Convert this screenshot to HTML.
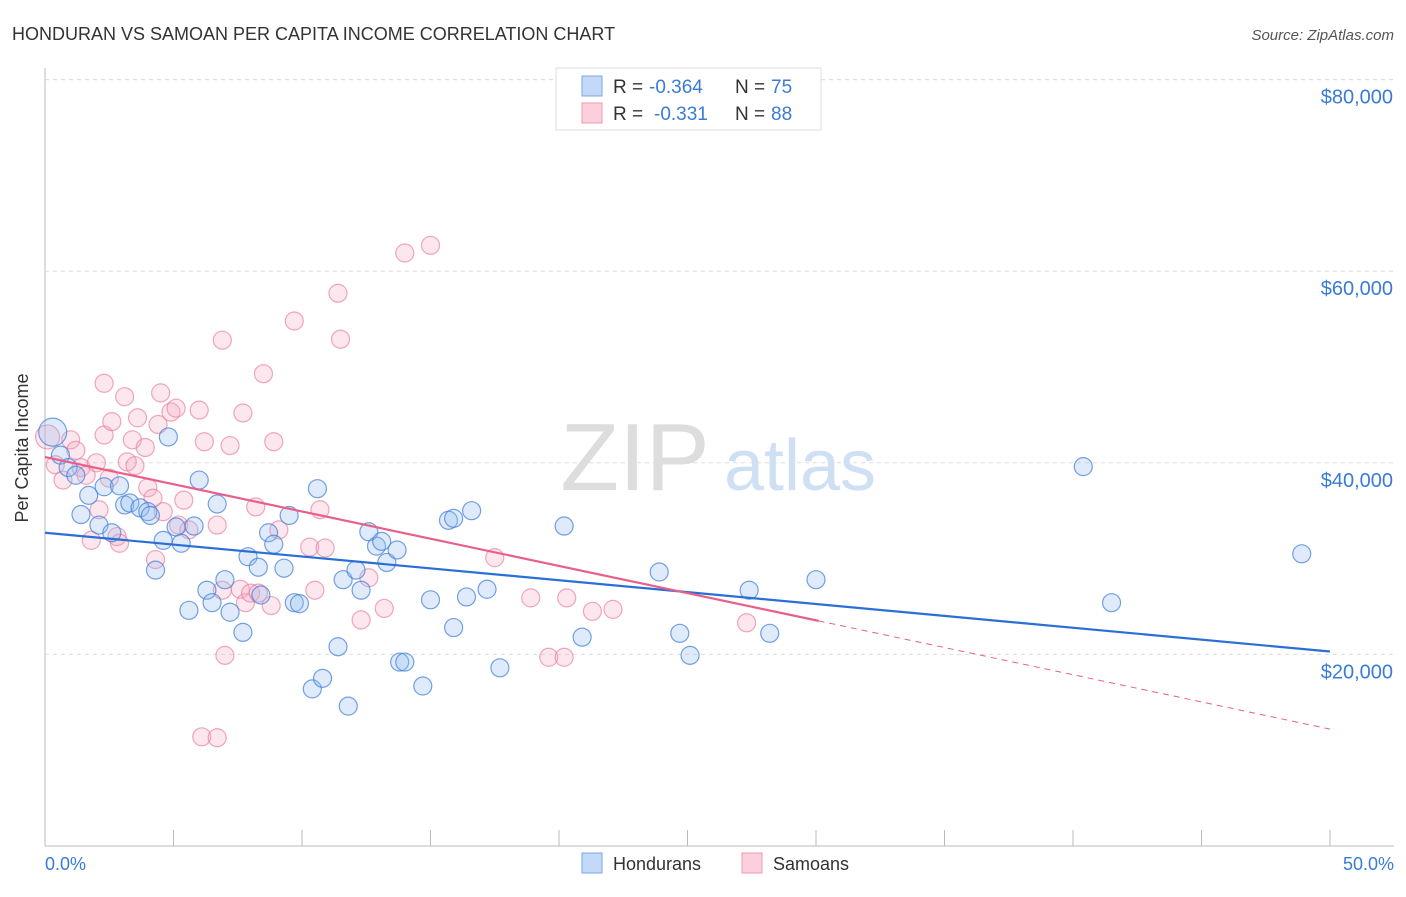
<!DOCTYPE html>
<html><head><meta charset="utf-8"><style>
body{margin:0;background:#fff;font-family:"Liberation Sans",sans-serif;}
svg text{font-family:"Liberation Sans",sans-serif;}
</style></head><body>
<svg id="c" width="1406" height="892" xmlns="http://www.w3.org/2000/svg">
<text x="12" y="40" font-size="18" fill="#333">HONDURAN VS SAMOAN PER CAPITA INCOME CORRELATION CHART</text>
<text x="1394" y="40" font-size="15" fill="#555" font-style="italic" text-anchor="end">Source: ZipAtlas.com</text>
<g id="grid"></g>
<text x="635" y="490" font-size="96" fill="#ddd" text-anchor="middle" font-family="Liberation Serif">ZIP</text>
<text x="800" y="490" font-size="72" fill="#cfe0f4" text-anchor="middle">atlas</text>
<g id="pts"></g>
<g id="lines"></g>
<text x="35" y="455" font-size="18" fill="#333" text-anchor="middle" transform="rotate(-90 28 455)">Per Capita Income</text>
<text x="45" y="870" font-size="18" fill="#3a7bd5">0.0%</text>
<text x="1394" y="870" font-size="18" fill="#3a7bd5" text-anchor="end">50.0%</text>
<g>
<rect x="556" y="68" width="265" height="62" fill="#fff" stroke="#ddd"/>
<rect x="582" y="76" width="20" height="20" fill="#c3d9f7" stroke="#7aa7e6"/>
<rect x="582" y="103" width="20" height="20" fill="#fbd0dc" stroke="#ee9ab2"/>
<text x="613" y="93" font-size="19" fill="#333">R =</text>
<text x="649" y="93" font-size="19" fill="#3a7bd5">-0.364</text>
<text x="735" y="93" font-size="19" fill="#333">N =</text>
<text x="771" y="93" font-size="19" fill="#3a7bd5">75</text>
<text x="613" y="120" font-size="19" fill="#333">R =</text>
<text x="654" y="120" font-size="19" fill="#3a7bd5">-0.331</text>
<text x="735" y="120" font-size="19" fill="#333">N =</text>
<text x="771" y="120" font-size="19" fill="#3a7bd5">88</text>
</g>
<g>
<rect x="582" y="853" width="20" height="20" fill="#c3d9f7" stroke="#7aa7e6"/>
<text x="613" y="870" font-size="18" fill="#333">Hondurans</text>
<rect x="742" y="853" width="20" height="20" fill="#fbd0dc" stroke="#ee9ab2"/>
<text x="773" y="870" font-size="18" fill="#333">Samoans</text>
</g>
</svg>
<script>
const yTicks=[20000,40000,60000,80000];
const yTickLabels=["$20,000","$40,000","$60,000","$80,000"];
const xTicks=[0,5,10,15,20,25,30,35,40,45,50];
const hondX=[0.3,0.6,0.9,1.2,1.7,1.4,2.1,2.3,2.9,2.6,3.1,3.3,3.7,4.0,4.1,4.3,4.6,4.8,5.1,5.3,5.6,5.8,6.0,6.3,6.5,6.7,7.0,7.2,7.7,7.9,8.3,8.4,8.7,8.9,9.3,9.5,9.7,9.9,10.4,10.6,10.8,11.4,11.6,11.8,12.1,12.3,12.6,12.9,13.1,13.3,13.7,13.8,14.0,14.7,15.0,15.7,15.9,15.9,16.4,16.6,17.2,17.7,20.2,20.9,23.9,24.7,25.1,27.4,28.2,30.0,40.4,41.5,48.9];
const hondY=[43.2,40.8,39.5,38.7,36.6,34.6,33.5,37.5,37.6,32.7,35.6,35.8,35.3,34.9,34.5,28.8,31.9,42.7,33.3,31.6,24.6,33.4,38.2,26.7,25.4,35.7,27.8,24.4,22.3,30.2,29.1,26.2,32.7,31.5,29.0,34.5,25.4,25.3,16.4,37.3,17.5,20.8,27.8,14.6,28.8,26.7,32.8,31.3,31.8,29.6,30.9,19.2,19.2,16.7,25.7,34.0,34.2,22.8,26.0,35.0,26.8,18.6,33.4,21.8,28.6,22.2,19.9,26.7,22.2,27.8,39.6,25.4,30.5];
const samX=[0.1,0.4,0.7,1.0,1.2,1.4,1.6,1.8,2.0,2.1,2.3,2.3,2.5,2.6,2.8,2.9,3.1,3.2,3.4,3.5,3.6,3.9,4.0,4.2,4.3,4.5,4.6,4.4,4.9,5.1,5.2,5.4,5.6,6.0,6.2,6.9,6.7,6.9,7.0,7.2,6.1,6.7,7.6,7.7,7.8,8.0,8.2,8.3,8.5,8.8,8.9,9.1,9.7,10.3,10.5,10.7,10.9,11.4,11.5,12.3,12.6,13.2,14.0,15.0,17.5,18.9,19.6,20.2,20.3,21.3,22.1,27.3];
const samY=[42.7,39.8,38.2,42.4,41.3,39.5,38.7,31.9,40.0,35.1,42.9,48.3,38.4,44.3,32.3,31.6,46.9,40.1,42.4,39.7,44.7,41.6,37.4,36.3,29.9,47.3,34.9,44.0,45.3,45.7,33.5,36.1,33.0,45.5,42.2,52.8,33.5,26.7,19.9,41.8,11.4,11.3,26.8,45.2,25.4,26.4,35.4,26.4,49.3,25.1,42.2,33.0,54.8,31.2,26.7,35.1,31.1,57.7,52.9,23.6,28.0,24.8,61.9,62.7,30.1,25.9,19.7,19.7,25.9,24.5,24.7,23.3];
const hondLine=[32.7,20.3];
const samLine=[40.6,23.5,30.1,12.2];
const X=v=>45+v*25.7, Y=k=>846-k*1000*191.6/20000;
const NS="http://www.w3.org/2000/svg";
function mk(p,t,a){const e=document.createElementNS(NS,t);for(const k in a)e.setAttribute(k,a[k]);document.getElementById(p).appendChild(e);return e;}
let e=mk('grid','line',{x1:45,y1:68,x2:45,y2:846,stroke:'#bbb'});

e=mk('grid','line',{x1:45,y1:846,x2:1394,y2:846,stroke:'#bbb'});

e=mk('grid','line',{x1:45,y1:Y(80),x2:1394,y2:Y(80),stroke:'#ddd','stroke-dasharray':'4,4'});
xTicks.forEach(t=>{const l=mk('grid','line',{x1:X(t),y1:830,x2:X(t),y2:846,stroke:'#bbb'});
});
yTicks.forEach((t,i)=>{const l=mk('grid','line',{x1:45,y1:Y(t/1000),x2:1394,y2:Y(t/1000),stroke:'#ddd','stroke-dasharray':'4,4'});

const tx=mk('grid','text',{x:1393,y:Y(t/1000)+24,'font-size':20,fill:'#3a7bd5','text-anchor':'end'});tx.textContent=yTickLabels[i];
});
samX.forEach((x,i)=>{const c=mk('pts','circle',{cx:X(x),cy:Y(samY[i]),r:i==0?12:9,fill:'rgba(246,170,195,0.28)',stroke:'rgba(234,130,160,0.7)','stroke-width':1.2});
});
hondX.forEach((x,i)=>{const c=mk('pts','circle',{cx:X(x),cy:Y(hondY[i]),r:i==0?14:9,fill:'rgba(150,190,240,0.3)',stroke:'rgba(70,130,220,0.75)','stroke-width':1.2});
});
e=mk('lines','line',{x1:X(0),y1:Y(hondLine[0]),x2:X(50),y2:Y(hondLine[1]),stroke:'#2a6fd6','stroke-width':2.2});

e=mk('lines','line',{x1:X(0),y1:Y(samLine[0]),x2:X(samLine[2]),y2:Y(samLine[1]),stroke:'#e8608a','stroke-width':2.2});

e=mk('lines','line',{x1:X(samLine[2]),y1:Y(samLine[1]),x2:X(50),y2:Y(samLine[3]),stroke:'#e8608a','stroke-width':1,'stroke-dasharray':'6,5'});

</script>
</body></html>
